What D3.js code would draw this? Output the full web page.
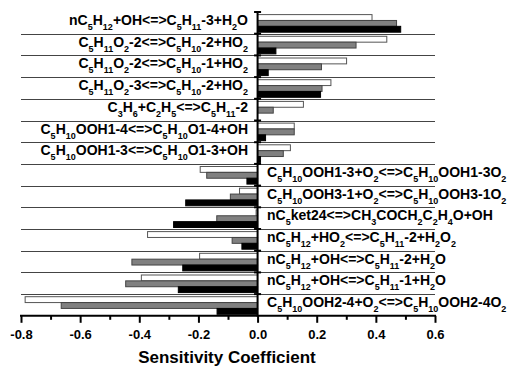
<!DOCTYPE html>
<html>
<head>
<meta charset="utf-8">
<script src="https://cdn.jsdelivr.net/npm/d3@7"></script>
<style>
  body { margin: 0; background: #fff; }
  svg { display: block; font-family: "Liberation Sans", Arial, sans-serif; font-weight: bold; }
</style>
</head>
<body>
<div id="chart"></div>
<script>
// reactions, top to bottom; "_" marks a subscript
const reactions = [
  "nC_5H_12+OH<=>C_5H_11-3+H_2O",
  "C_5H_11O_2-2<=>C_5H_10-2+HO_2",
  "C_5H_11O_2-2<=>C_5H_10-1+HO_2",
  "C_5H_11O_2-3<=>C_5H_10-2+HO_2",
  "C_3H_6+C_2H_5<=>C_5H_11-2",
  "C_5H_10OOH1-4<=>C_5H_10O1-4+OH",
  "C_5H_10OOH1-3<=>C_5H_10O1-3+OH",
  "C_5H_10OOH1-3+O_2<=>C_5H_10OOH1-3O_2",
  "C_5H_10OOH3-1+O_2<=>C_5H_10OOH3-1O_2",
  "nC_5ket24<=>CH_3COCH_2C_2H_4O+OH",
  "nC_5H_12+HO_2<=>C_5H_11-2+H_2O_2",
  "nC_5H_12+OH<=>C_5H_11-2+H_2O",
  "nC_5H_12+OH<=>C_5H_11-1+H_2O",
  "C_5H_10OOH2-4+O_2<=>C_5H_10OOH2-4O_2"
];
const seriesWhite = [0.387, 0.437, 0.301, 0.248, 0.155, 0.124, 0.111, -0.194, -0.061, -0.005, -0.372, -0.196, -0.393, -0.786];
const seriesGray  = [0.470, 0.333, 0.216, 0.218, 0.053, 0.124, 0.087, -0.172, -0.092, -0.138, -0.086, -0.425, -0.446, -0.664];
const seriesBlack = [0.484, 0.062, 0.036, 0.213, 0.000, 0.027, 0.010, -0.036, -0.243, -0.284, -0.053, -0.253, -0.268, -0.137];
const majorTicks = [-0.8, -0.6, -0.4, -0.2, 0.0, 0.2, 0.4, 0.6];
const minorTicks = [-0.7, -0.5, -0.3, -0.1, 0.1, 0.3, 0.5];
const xTitle = "Sensitivity Coefficient";

const W = 509, H = 367;
const keys = ['white', 'gray', 'black'];
const styles = {
  white: {fill: '#fff', stroke: '#555'},
  gray: {fill: '#808080', stroke: '#444'},
  black: {fill: '#000', stroke: '#000'}
};

const data = reactions.map((r, i) => ({
  key: r,
  values: [
    {key: 'white', value: seriesWhite[i]},
    {key: 'gray', value: seriesGray[i]},
    {key: 'black', value: seriesBlack[i]}
  ]
}));

const x = d3.scaleLinear().domain([-0.8, 0.6]).range([21, 435]);
const y0 = d3.scaleBand().domain(reactions).range([12, 315.8]);
const y1 = d3.scaleBand().domain(keys).range([2.6, 20.2]);

const svg = d3.select('#chart').append('svg')
  .attr('width', W)
  .attr('height', H);

// row separators
svg.append('g')
  .selectAll('line')
  .data(reactions.slice(1))
  .enter().append('line')
  .attr('x1', x(-0.8))
  .attr('x2', x(0.6))
  .attr('y1', d => Math.round(y0(d)) + 0.5)
  .attr('y2', d => Math.round(y0(d)) + 0.5)
  .attr('stroke', '#444')
  .attr('stroke-width', 1);

// bars
const rows = svg.append('g')
  .selectAll('g')
  .data(data)
  .enter().append('g')
  .attr('transform', d => 'translate(0,' + y0(d.key) + ')');

rows.selectAll('rect')
  .data(d => d.values)
  .enter().append('rect')
  .attr('x', d => Math.min(x(0), x(d.value)))
  .attr('y', d => y1(d.key))
  .attr('width', d => Math.abs(x(d.value) - x(0)))
  .attr('height', y1.bandwidth())
  .attr('fill', d => styles[d.key].fill)
  .attr('stroke', d => d.value === 0 ? 'none' : styles[d.key].stroke)
  .attr('stroke-width', 1);

// labels with subscripts
function addLabel(sel, str) {
  const parts = str.split(/(_\d+)/).filter(s => s.length);
  let sub = false;
  parts.forEach(p => {
    if (p[0] === '_') {
      sel.append('tspan').attr('font-size', 9).attr('dy', sub ? 0 : 5).text(p.slice(1));
      sub = true;
    } else {
      sel.append('tspan').attr('font-size', 14).attr('dy', sub ? -5 : 0).text(p);
      sub = false;
    }
  });
}

svg.append('g')
  .selectAll('text')
  .data(reactions)
  .enter().append('text')
  .attr('x', (d, i) => i < 7 ? 248 : 267)
  .attr('y', d => y0(d) + y0.bandwidth() / 2 + 2.2)
  .attr('text-anchor', (d, i) => i < 7 ? 'end' : 'start')
  .attr('fill', '#000')
  .each(function (d) { addLabel(d3.select(this), d); });

// y axis at zero
const yAxis = svg.append('g');
yAxis.append('line')
  .attr('x1', x(0)).attr('x2', x(0))
  .attr('y1', 11).attr('y2', 316.8)
  .attr('stroke', '#000').attr('stroke-width', 2);
yAxis.selectAll('.ytick')
  .data(reactions)
  .enter().append('line')
  .attr('class', 'ytick')
  .attr('x1', x(0) - 3.5).attr('x2', x(0) + 3.5)
  .attr('y1', d => y0(d)).attr('y2', d => y0(d))
  .attr('stroke', '#000').attr('stroke-width', 2);

// x axis
const axisY = 315.8;
const gx = svg.append('g')
  .attr('transform', 'translate(0,' + axisY + ')')
  .call(d3.axisBottom(x).tickValues(majorTicks).tickSize(7).tickSizeOuter(0)
    .tickFormat(d => d.toFixed(1)));
gx.select('.domain').remove();
gx.selectAll('.tick line').attr('stroke', '#000').attr('stroke-width', 2);
gx.selectAll('.tick text')
  .attr('font-family', '"Liberation Sans", Arial, sans-serif')
  .attr('font-weight', 'bold')
  .attr('font-size', 13)
  .attr('fill', '#000')
  .attr('dy', '1.05em');

const gxm = svg.append('g')
  .attr('transform', 'translate(0,' + axisY + ')')
  .call(d3.axisBottom(x).tickValues(minorTicks).tickSize(4).tickFormat(''));
gxm.select('.domain').remove();
gxm.selectAll('.tick line').attr('stroke', '#000').attr('stroke-width', 2);

svg.append('line')
  .attr('x1', x(-0.8) - 1).attr('x2', x(0.6) + 1)
  .attr('y1', axisY).attr('y2', axisY)
  .attr('stroke', '#000').attr('stroke-width', 2);

svg.append('text')
  .attr('x', 227)
  .attr('y', 363)
  .attr('text-anchor', 'middle')
  .attr('font-size', 17)
  .attr('fill', '#000')
  .text(xTitle);
</script>
</body>
</html>
